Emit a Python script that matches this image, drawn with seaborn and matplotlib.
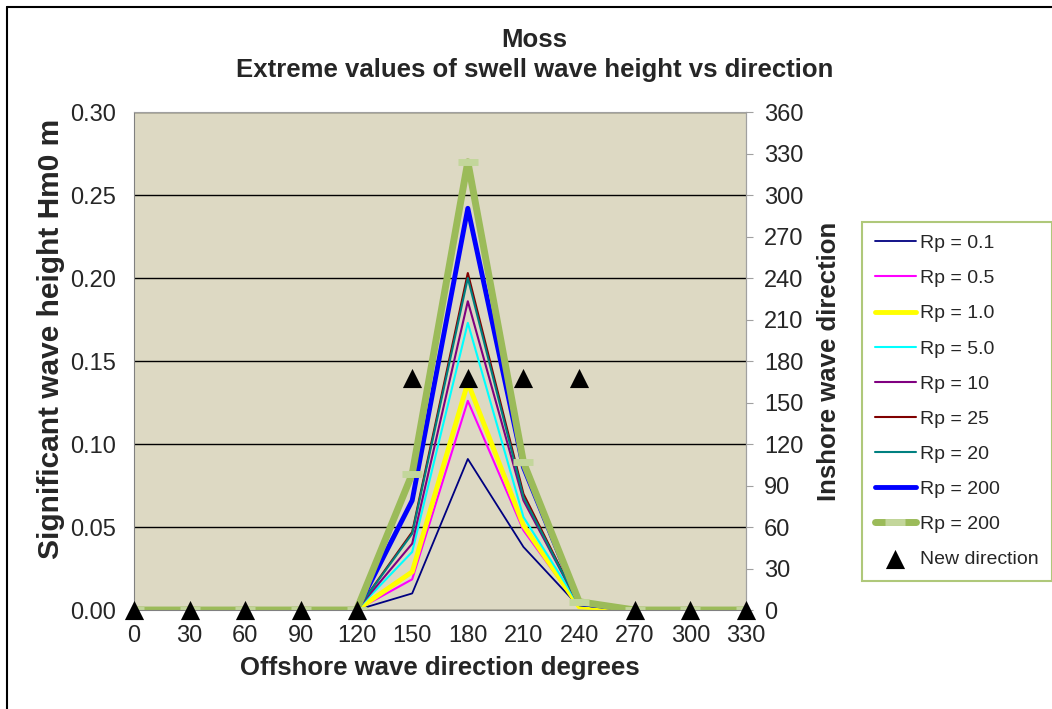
import matplotlib
matplotlib.use('Agg')
import matplotlib.pyplot as plt
from matplotlib.lines import Line2D
import seaborn as sns

# Offshore directions and extreme swell heights per return period
directions = [0, 30, 60, 90, 120, 150, 180, 210, 240, 270, 300, 330]
rp_01 = [0, 0, 0, 0, 0, 0.010, 0.091, 0.038, 0.002, 0, 0, 0]
rp_05 = [0, 0, 0, 0, 0, 0.0185, 0.126, 0.048, 0.002, 0, 0, 0]
rp_1 = [0, 0, 0, 0, 0, 0.023, 0.137, 0.051, 0.002, 0, 0, 0]
rp_5 = [0, 0, 0, 0, 0, 0.035, 0.173, 0.056, 0.003, 0, 0, 0]
rp_10 = [0, 0, 0, 0, 0, 0.040, 0.186, 0.066, 0.003, 0, 0, 0]
rp_25 = [0, 0, 0, 0, 0, 0.047, 0.203, 0.070, 0.003, 0, 0, 0]
rp_20 = [0, 0, 0, 0, 0, 0.046, 0.200, 0.068, 0.003, 0, 0, 0]
rp_200 = [0, 0, 0, 0, 0, 0.066, 0.242, 0.086, 0.004, 0, 0, 0]
rp_200b = [0, 0, 0, 0, 0, 0.082, 0.270, 0.089, 0.005, 0, 0, 0]
new_direction = [0, 0, 0, 0, 0, 168, 168, 168, 168, 0, 0, 0]

series = [
    ('Rp = 0.1', rp_01, '#000080', 1.3),
    ('Rp = 0.5', rp_05, '#ff00ff', 1.5),
    ('Rp = 1.0', rp_1, '#ffff00', 3.5),
    ('Rp = 5.0', rp_5, '#00ffff', 1.5),
    ('Rp = 10', rp_10, '#800080', 1.5),
    ('Rp = 25', rp_25, '#800000', 1.5),
    ('Rp = 20', rp_20, '#008080', 1.5),
    ('Rp = 200', rp_200, '#0000ff', 3.5),
]

sns.set_style('white')
plt.rcParams['font.family'] = ['Liberation Sans', 'DejaVu Sans']

fig = plt.figure(figsize=(10.52, 7.09), dpi=100)
ax = fig.add_axes([0.1274, 0.1396, 0.5817, 0.7024])
ax.set_facecolor('#ddd9c3')

for label, vals, col, lw in series:
    sns.lineplot(x=directions, y=vals, color=col, linewidth=lw, label=label, ax=ax)
sns.lineplot(x=directions, y=rp_200b, color='#9bbb59', linewidth=5, label='Rp = 200',
             marker='_', markersize=14, markeredgewidth=5, markeredgecolor='#c3d69b', ax=ax)

ax.set_xlim(0, 330)
ax.set_ylim(0, 0.30)
ax.set_xticks(directions)
ax.set_yticks([0, 0.05, 0.10, 0.15, 0.20, 0.25, 0.30])
ax.set_yticklabels([f'{v:.2f}' for v in ax.get_yticks()])
ax.yaxis.grid(True, color='black', linewidth=1)
ax.set_axisbelow(True)
ax.tick_params(axis='x', labelsize=17, length=0, pad=11)
ax.tick_params(axis='y', labelsize=17, length=0, pad=13)
for side in ['left', 'bottom']:
    ax.spines[side].set_color('#808080')
for side in ['top', 'right']:
    ax.spines[side].set_color('#a0a0a0')
ax.set_xlabel('Offshore wave direction degrees', fontsize=18.5, fontweight='bold', labelpad=6)
ax.set_ylabel('Significant wave height Hm0 m', fontsize=21.5, fontweight='bold')
ax.yaxis.set_label_coords(-0.113, 0.545)

# secondary axis for inshore direction
ax2 = ax.twinx()
sns.scatterplot(x=directions, y=new_direction, marker='^', s=190, color='black',
                edgecolor='black', linewidth=0, label='New direction', ax=ax2, clip_on=False, zorder=5)
ax2.set_ylim(0, 360)
ax2.set_yticks(range(0, 361, 30))
ax2.tick_params(axis='y', labelsize=17, length=5, color='#a0a0a0', direction='out', pad=8, right=True)
ax2.set_ylabel('Inshore wave direction', fontsize=18.5, fontweight='bold', labelpad=10)
for sp in ax2.spines.values():
    sp.set_visible(False)
ax2.spines['right'].set_visible(True)
ax2.spines['right'].set_color('#a0a0a0')

h1, l1 = ax.get_legend_handles_labels()
h2, l2 = ax2.get_legend_handles_labels()
ax.get_legend().remove()
ax2.get_legend().remove()
leg = fig.legend(h1 + h2, l1 + l2, loc='upper left', bbox_to_anchor=(0.8195, 0.687),
                 borderaxespad=0, fontsize=14, frameon=True, fancybox=False, edgecolor='#9bbb59',
                 labelspacing=0.9, handlelength=2.1, handletextpad=0.25, borderpad=0.65)
leg.get_frame().set_linewidth(1.5)

fig.text(0.508, 0.9436, 'Moss', ha='center', va='center', fontsize=18.5, fontweight='bold')
fig.text(0.508, 0.901, 'Extreme values of swell wave height vs direction', ha='center',
         va='center', fontsize=18.5, fontweight='bold')

# chart frame lines
fig.add_artist(Line2D([6.5 / 1052, 6.5 / 1052], [0, 1 - 7 / 709], color='black', lw=1.5))
fig.add_artist(Line2D([6.5 / 1052, 1], [1 - 7 / 709, 1 - 7 / 709], color='black', lw=1.5))

fig.savefig('out.png', dpi=100)
